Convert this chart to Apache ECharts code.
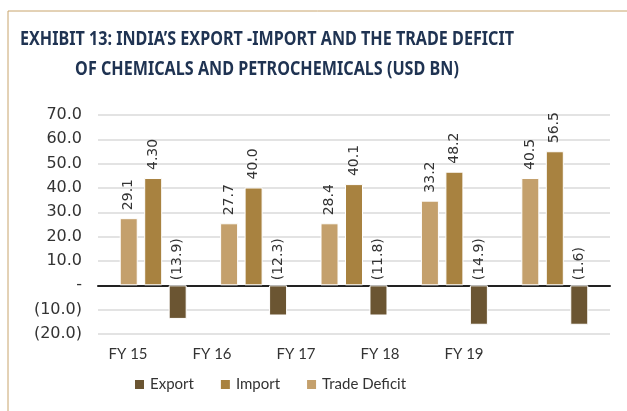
<!DOCTYPE html>
<html>
<head>
<meta charset="utf-8">
<script src="https://cdn.jsdelivr.net/npm/echarts@6/dist/echarts.min.js"></script>
<style>
	html, body { margin: 0; padding: 0; background: #fff; }
	#chart { width: 627px; height: 411px; }
</style>
</head>
<body>
<div id="chart"></div>
<script>
	// 数据
	var years = ['FY 15', 'FY 16', 'FY 17', 'FY 18', 'FY 19'];
	// bar heights as drawn in the picture
	var lightBars = [27.6, 25.5, 25.5, 34.8, 44.1];
	var midBars = [44.1, 40.2, 41.6, 46.7, 55.1];
	var darkBars = [-13.8, -12.4, -12.4, -16.2, -16.2];
	// labels as printed on the bars
	var lightLabels = ['29.1', '27.7', '28.4', '33.2', '40.5'];
	var midLabels = ['4.30', '40.0', '40.1', '48.2', '56.5'];
	var darkLabels = ['(13.9)', '(12.3)', '(11.8)', '(14.9)', '(1.6)'];
	var legendNames = ['Export', 'Import', 'Trade Deficit'];
	var titleLines = [
		'EXHIBIT 13: INDIA\u2019S EXPORT -IMPORT AND THE TRADE DEFICIT',
		'OF CHEMICALS AND PETROCHEMICALS (USD BN)'
	];

	var narrow = "Lato, 'DejaVu Sans Condensed', sans-serif";

	function barLabel(list, dist) {
		return {
			show: true,
			position: 'top',
			rotate: 90,
			align: 'left',
			verticalAlign: 'middle',
			distance: dist,
			color: '#333',
			fontSize: 14,
			fontFamily: 'DejaVu Sans',
			formatter: function (p) { return list[p.dataIndex]; }
		};
	}

	function barSeries(name, data, color, labels, dist) {
		return {
			name: name,
			type: 'bar',
			xAxisIndex: 1,
			yAxisIndex: 1,
			data: data,
			barWidth: 18,
			barGap: '36%',
			itemStyle: { color: color, borderColor: '#fff', borderWidth: 1 },
			label: barLabel(labels, dist)
		};
	}

	function titleText(str, y) {
		return {
			type: 'text',
			x: 267,
			y: y,
			scaleX: 0.85,
			style: {
				text: str,
				textAlign: 'center',
				textVerticalAlign: 'middle',
				fill: '#1f3352',
				font: "bold 19px 'Noto Sans', sans-serif"
			}
		};
	}

	var myChart = echarts.init(document.getElementById('chart'));
	var option = {
		animation: false,
		graphic: [
			{ type: 'line', shape: { x1: 8, y1: 11, x2: 627, y2: 11 }, style: { stroke: '#c8a46c', lineWidth: 1 } },
			{ type: 'line', shape: { x1: 8, y1: 11, x2: 8, y2: 411 }, style: { stroke: '#c8a46c', lineWidth: 1 } },
			titleText(titleLines[0], 40),
			titleText(titleLines[1], 70)
		],
		legend: {
			data: legendNames,
			left: 128,
			top: 372,
			icon: 'rect',
			itemWidth: 11,
			itemHeight: 11,
			itemGap: 25,
			textStyle: { fontSize: 15, color: '#333', fontFamily: narrow }
		},
		grid: [
			// gridlines, y labels and zero line
			{ left: 98, right: 17, top: 115, bottom: 77 },
			// bars
			{ left: 103, right: 22, top: 115, bottom: 77 },
			// category labels
			{ left: 86, width: 420, top: 115, bottom: 77 }
		],
		xAxis: [
			{
				type: 'category',
				data: years,
				gridIndex: 0,
				axisLine: { onZero: true, lineStyle: { color: '#222', width: 2 } },
				axisTick: { show: false },
				axisLabel: { show: false }
			},
			{ type: 'category', data: years, gridIndex: 1, show: false },
			{
				type: 'category',
				data: years,
				gridIndex: 2,
				axisLine: { show: false },
				axisTick: { show: false },
				axisLabel: { margin: 13, fontSize: 15, color: '#333', fontFamily: narrow }
			}
		],
		yAxis: [
			{
				type: 'value',
				gridIndex: 0,
				min: -20,
				max: 70,
				interval: 10,
				axisLine: { show: false },
				axisTick: { show: false },
				splitLine: { lineStyle: { color: '#e3e3e3', width: 2 } },
				axisLabel: {
					margin: 16,
					fontSize: 16,
					color: '#333',
					fontFamily: 'DejaVu Sans',
					formatter: function (v) {
						if (v === 0) return '-';
						if (v < 0) return '(' + Math.abs(v).toFixed(1) + ')';
						return v.toFixed(1);
					}
				}
			},
			{ type: 'value', gridIndex: 1, min: -20, max: 70, interval: 10, show: false },
			{ type: 'value', gridIndex: 2, min: 0, max: 1, show: false }
		],
		series: [
			barSeries('Trade Deficit', lightBars, '#c4a06c', lightLabels, 8),
			barSeries('Import', midBars, '#a88240', midLabels, 8),
			barSeries('Export', darkBars, '#6b5532', darkLabels, 5)
		]
	};
	myChart.setOption(option);
</script>
</body>
</html>
